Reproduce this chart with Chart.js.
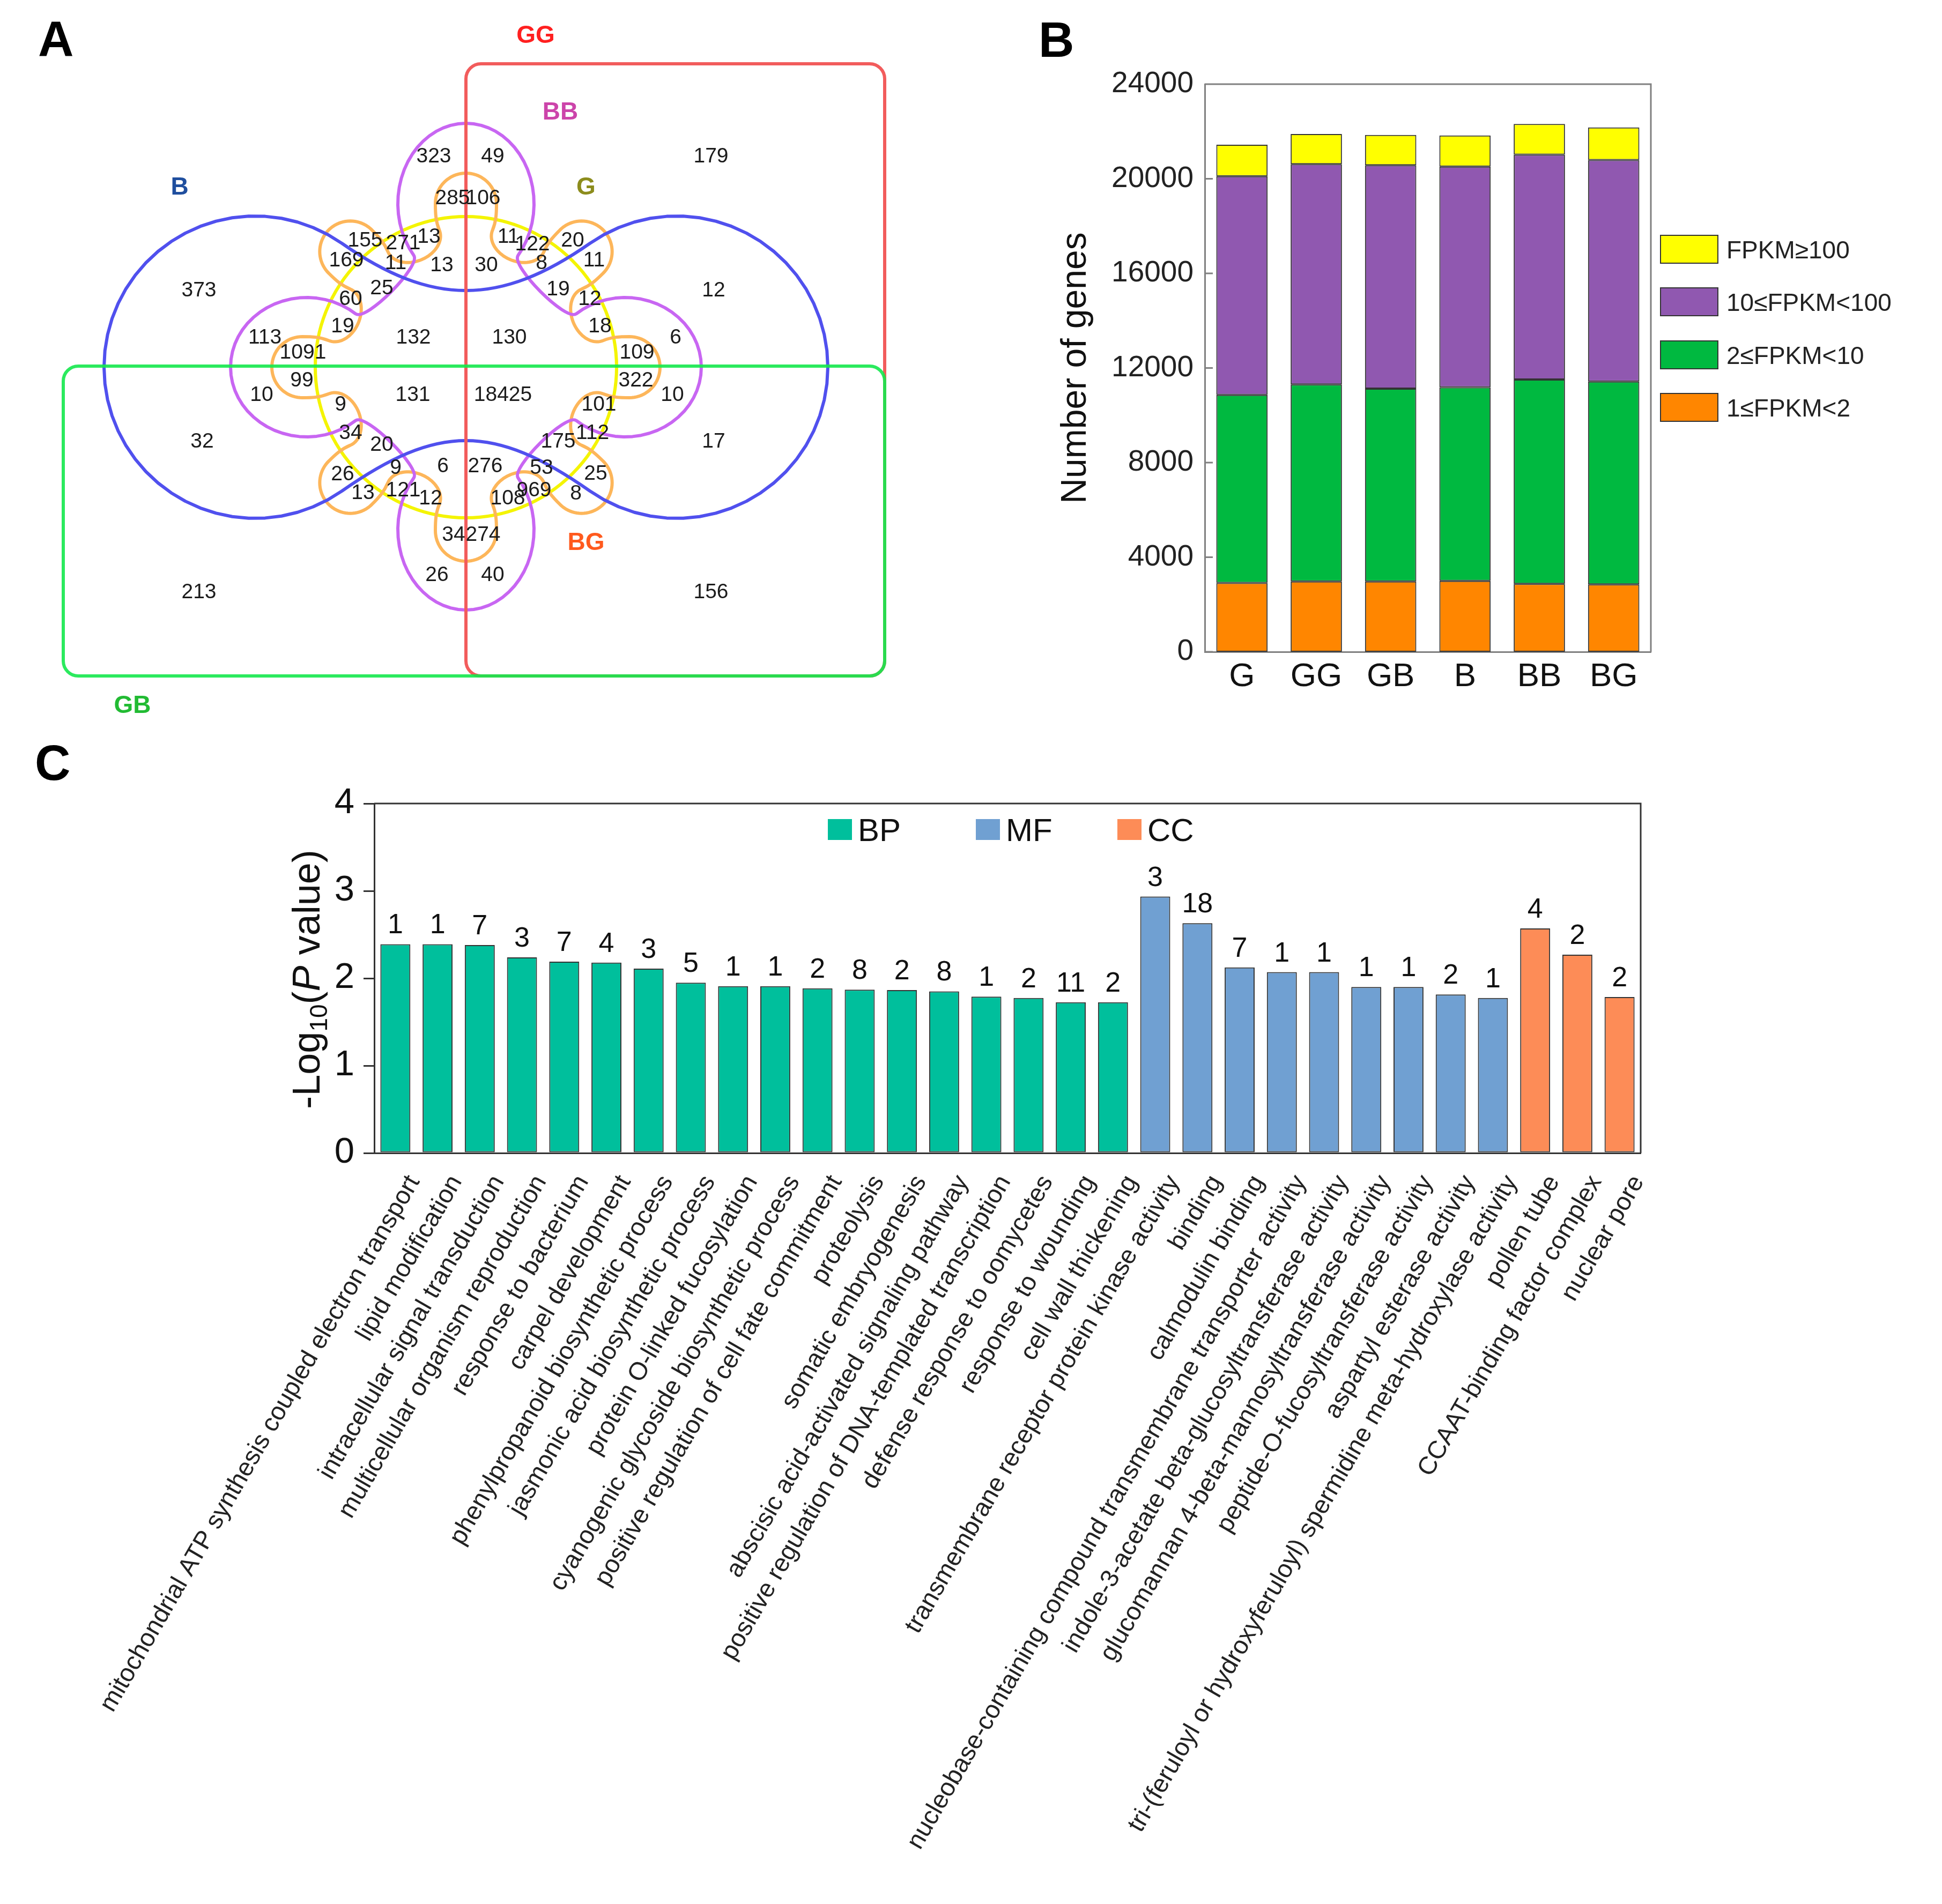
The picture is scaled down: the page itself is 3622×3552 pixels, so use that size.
<!DOCTYPE html>
<html>
<head>
<meta charset="utf-8">
<title>Venn, FPKM distribution and GO enrichment</title>
<script src="https://cdn.jsdelivr.net/npm/chart.js@4.4.1/dist/chart.umd.min.js"></script>
<style>
  html, body { margin: 0; padding: 0; background: #fff; }
  body { width: 3622px; height: 3552px; position: relative; overflow: hidden; }
  .box { position: absolute; }
  .tag { position: absolute; font: bold 92px "Liberation Sans", Arial, sans-serif; line-height: 1; color: #000; }
</style>
</head>
<body>
<div class="box" style="left:0;top:0;width:1800px;height:1400px"><canvas id="venn"></canvas></div>
<div class="box" style="left:1900px;top:0;width:1722px;height:1400px"><canvas id="fpkm"></canvas></div>
<div class="box" style="left:0;top:1400px;width:3622px;height:2152px"><canvas id="go"></canvas></div>
<div class="tag" style="left:71px;top:26px">A</div>
<div class="tag" style="left:1937px;top:28px">B</div>
<div class="tag" style="left:65px;top:1377px">C</div>
<script>
// ---------------- panel A: six-set Venn ----------------
const vennCounts = [323, 49, 179, 285, 106, 155, 271, 13, 11, 122, 20, 169, 11, 13, 30, 8, 11,
  373, 25, 19, 12, 12, 60, 19, 18, 113, 132, 130, 6, 1091, 109, 99, 322, 10, 131, 18425, 10,
  9, 101, 34, 112, 32, 175, 17, 20, 9, 6, 276, 53, 26, 25, 13, 121, 12, 108, 969, 8, 34, 274,
  26, 40, 213, 156];
// where each count is printed (panel pixels)
const vennSpots = [[809,292],[919,292],[1326,292],[844,370],[901,370],[681,449],[752,454],[800,442],
  [948,442],[993,456],[1068,449],[646,486],[738,491],[824,495],[907,495],[1010,491],[1108,486],
  [371,542],[712,538],[1041,540],[1100,558],[1331,542],[654,558],[639,609],[1119,609],[494,630],
  [771,630],[950,630],[1260,630],[565,658],[1188,658],[563,710],[1186,710],[488,737],[770,737],
  [938,737],[1254,737],[635,755],[1117,755],[654,808],[1105,808],[377,824],[1041,824],[1331,824],
  [712,830],[738,873],[826,870],[905,870],[1010,873],[639,885],[1111,884],[677,920],[752,915],
  [803,930],[947,930],[996,915],[1074,921],[846,998],[901,998],[815,1073],[919,1073],[371,1105],
  [1326,1105]];
const vennSetNames = ['GG', 'BB', 'B', 'G', 'BG', 'GB'];
const vennSetSpots = [[999,67],[1045,210],[335,350],[1093,350],[1093,1013],[247,1317]];
const vennSetColors = ['#ff2020', '#cc44aa', '#1f4e9e', '#8c8c1c', '#ff5a1e', '#22bb33'];

// outline geometry (panel pixels)
const vennCenter = [869, 685];
const yellowRadius = 281;
const blueLobes = [
  { phi: 0, d: 393, a: 282, b: 282, span: 125 },
  { phi: 180, d: 393, a: 282, b: 282, span: 125 }
];
const blueWaists = [137, 143];
const purpleLobes = [
  { phi: -90, d: 305, a: 150, b: 127, span: 130 },
  { phi: 0, d: 297, a: 142, b: 130, span: 130 },
  { phi: 90, d: 303, a: 150, b: 127, span: 130 },
  { phi: 180, d: 297, a: 142, b: 130, span: 130 }
];
const purpleWaists = [198, 198, 198, 198];
const orangeLobes = [];
for (let i = 0; i < 16; i++) {
  const inward = i % 2 === 1;
  orangeLobes.push({ phi: -90 + 22.5 * i, d: inward ? 255 : 305, a: inward ? 38 : 57, b: inward ? 52 : 57, span: 90, inward });
}
const ggRect = [869, 119, 1650, 1261];
const gbRect = [118, 683, 1650, 1261];

// ---------------- panel B: FPKM classes ----------------
const sampleGroups = ['G', 'GG', 'GB', 'B', 'BB', 'BG'];
const fpkm1to2 = [2910, 2975, 2975, 2995, 2870, 2850];
const fpkm2to10 = [7950, 8330, 8150, 8190, 8640, 8580];
const fpkm10to100 = [9245, 9310, 9450, 9330, 9510, 9365];
const fpkmOver100 = [1335, 1275, 1275, 1315, 1295, 1375];

// ---------------- panel C: GO enrichment ----------------
const goTerms = [
  'mitochondrial ATP synthesis coupled electron transport', 'lipid modification',
  'intracellular signal transduction', 'multicellular organism reproduction',
  'response to bacterium', 'carpel development', 'phenylpropanoid biosynthetic process',
  'jasmonic acid biosynthetic process', 'protein O-linked fucosylation',
  'cyanogenic glycoside biosynthetic process', 'positive regulation of cell fate commitment',
  'proteolysis', 'somatic embryogenesis', 'abscisic acid-activated signaling pathway',
  'positive regulation of DNA-templated transcription', 'defense response to oomycetes',
  'response to wounding', 'cell wall thickening',
  'transmembrane receptor protein kinase activity', 'binding', 'calmodulin binding',
  'nucleobase-containing compound transmembrane transporter activity',
  'indole-3-acetate beta-glucosyltransferase activity',
  'glucomannan 4-beta-mannosyltransferase activity', 'peptide-O-fucosyltransferase activity',
  'aspartyl esterase activity',
  'tri-(feruloyl or hydroxyferuloyl) spermidine meta-hydroxylase activity',
  'pollen tube', 'CCAAT-binding factor complex', 'nuclear pore'
];
const goLogP = [2.39, 2.39, 2.38, 2.24, 2.19, 2.18, 2.11, 1.95, 1.91, 1.91, 1.885, 1.87, 1.865, 1.85,
  1.79, 1.775, 1.725, 1.725, 2.935, 2.63, 2.125, 2.07, 2.07, 1.9, 1.9, 1.815, 1.775, 2.57, 2.27, 1.785];
const goGeneCounts = [1, 1, 7, 3, 7, 4, 3, 5, 1, 1, 2, 8, 2, 8, 1, 2, 11, 2, 3, 18, 7, 1, 1, 1, 1, 2, 1, 4, 2, 2];
const goCategory = ['BP','BP','BP','BP','BP','BP','BP','BP','BP','BP','BP','BP','BP','BP','BP','BP','BP','BP',
  'MF','MF','MF','MF','MF','MF','MF','MF','MF','CC','CC','CC'];
const goClasses = ['BP', 'MF', 'CC'];

const FONT = '"Liberation Sans", Arial, Helvetica, sans-serif';
Chart.defaults.font.family = FONT;
Chart.defaults.color = '#111';

// ---------- Venn drawing helpers ----------
function lobeAt(c, L, t) {
  const rad = Math.PI / 180;
  const rot = (L.phi + (L.inward ? 180 : 0)) * rad;
  const ox = c[0] + L.d * Math.cos(L.phi * rad);
  const oy = c[1] + L.d * Math.sin(L.phi * rad);
  const cr = Math.cos(rot), sr = Math.sin(rot);
  const lx = L.a * Math.cos(t), ly = L.b * Math.sin(t);
  const dx = -L.a * Math.sin(t), dy = L.b * Math.cos(t);
  const s = L.inward ? -1 : 1;
  const tx = (dx * cr - dy * sr) * s, ty = (dx * sr + dy * cr) * s;
  const n = Math.hypot(tx, ty);
  return { x: ox + lx * cr - ly * sr, y: oy + lx * sr + ly * cr, tx: tx / n, ty: ty / n };
}

function tracePetals(ctx, px, c, lobes, waists, kDefault) {
  const rad = Math.PI / 180;
  const n = lobes.length;
  const range = L => { const s = L.span * rad; return L.inward ? [s, -s] : [-s, s]; };
  ctx.beginPath();
  lobes.forEach((L, i) => {
    const [t0, t1] = range(L);
    for (let j = 0; j <= 40; j++) {
      const p = lobeAt(c, L, t0 + (t1 - t0) * j / 40);
      const q = px(p.x, p.y);
      if (i === 0 && j === 0) ctx.moveTo(q[0], q[1]); else ctx.lineTo(q[0], q[1]);
    }
    const N = lobes[(i + 1) % n];
    const P0 = lobeAt(c, L, t1), P3 = lobeAt(c, N, range(N)[0]);
    let k = kDefault;
    if (waists) {
      let a2 = N.phi; if (a2 <= L.phi) a2 += 360;
      const mid = (L.phi + a2) / 2 * rad, ux = Math.cos(mid), uy = Math.sin(mid);
      const ax = (P0.x + P3.x) / 2 - c[0], ay = (P0.y + P3.y) / 2 - c[1];
      const bx = 0.375 * (P0.tx - P3.tx), by = 0.375 * (P0.ty - P3.ty);
      const den = bx * ux + by * uy;
      if (Math.abs(den) > 1e-6) k = (waists[i] - (ax * ux + ay * uy)) / den;
    }
    const c1 = px(P0.x + k * P0.tx, P0.y + k * P0.ty);
    const c2 = px(P3.x - k * P3.tx, P3.y - k * P3.ty);
    const e = px(P3.x, P3.y);
    ctx.bezierCurveTo(c1[0], c1[1], c2[0], c2[1], e[0], e[1]);
  });
  ctx.closePath();
}

function roundRectPath(ctx, x0, y0, x1, y1, r) {
  ctx.beginPath();
  ctx.moveTo(x0 + r, y0);
  ctx.lineTo(x1 - r, y0); ctx.arcTo(x1, y0, x1, y0 + r, r);
  ctx.lineTo(x1, y1 - r); ctx.arcTo(x1, y1, x1 - r, y1, r);
  ctx.lineTo(x0 + r, y1); ctx.arcTo(x0, y1, x0, y1 - r, r);
  ctx.lineTo(x0, y0 + r); ctx.arcTo(x0, y0, x0 + r, y0, r);
  ctx.closePath();
}

const vennOutlines = {
  id: 'vennOutlines',
  beforeDatasetsDraw(chart) {
    const { ctx, scales: { x, y } } = chart;
    const px = (a, b) => [x.getPixelForValue(a), y.getPixelForValue(b)];
    ctx.save();
    ctx.lineWidth = 6;
    ctx.lineJoin = 'round';

    const c = px(vennCenter[0], vennCenter[1]);
    const r = x.getPixelForValue(vennCenter[0] + yellowRadius) - c[0];
    ctx.strokeStyle = '#f4f400';
    ctx.beginPath(); ctx.arc(c[0], c[1], r, 0, Math.PI * 2); ctx.stroke();

    ctx.strokeStyle = '#fdb65a';
    tracePetals(ctx, px, vennCenter, orangeLobes, null, 18); ctx.stroke();

    ctx.strokeStyle = '#c866f2';
    tracePetals(ctx, px, vennCenter, purpleLobes, purpleWaists, 30); ctx.stroke();

    ctx.strokeStyle = '#5050ee';
    tracePetals(ctx, px, vennCenter, blueLobes, blueWaists, 200); ctx.stroke();

    let p0 = px(ggRect[0], ggRect[1]), p1 = px(ggRect[2], ggRect[3]);
    ctx.strokeStyle = '#f25c5c';
    roundRectPath(ctx, p0[0], p0[1], p1[0], p1[1], 28); ctx.stroke();

    p0 = px(gbRect[0], gbRect[1]); p1 = px(gbRect[2], gbRect[3]);
    ctx.strokeStyle = 'rgba(20,232,76,0.9)';
    roundRectPath(ctx, p0[0], p0[1], p1[0], p1[1], 28); ctx.stroke();
    ctx.restore();
  },
  afterDatasetsDraw(chart) {
    const { ctx, scales: { x, y } } = chart;
    ctx.save();
    ctx.textAlign = 'center';
    ctx.textBaseline = 'middle';
    ctx.fillStyle = '#1c1c1c';
    ctx.font = '39px ' + FONT;
    chart.getDatasetMeta(0).data.forEach((pt, i) => {
      ctx.fillText(String(vennCounts[i]), pt.x, pt.y);
    });
    ctx.font = 'bold 46px ' + FONT;
    vennSetNames.forEach((name, i) => {
      ctx.fillStyle = vennSetColors[i];
      ctx.fillText(name, x.getPixelForValue(vennSetSpots[i][0]), y.getPixelForValue(vennSetSpots[i][1]));
    });
    ctx.restore();
  }
};

new Chart(document.getElementById('venn'), {
  type: 'scatter',
  data: {
    datasets: [{
      label: 'region size',
      data: vennCounts.map((n, i) => ({ x: vennSpots[i][0], y: vennSpots[i][1] })),
      pointRadius: 0
    }]
  },
  options: {
    responsive: true, maintainAspectRatio: false, animation: false,
    layout: { padding: 0 },
    plugins: { legend: { display: false }, tooltip: { enabled: false } },
    scales: {
      x: { type: 'linear', min: 0, max: 1800, display: false },
      y: { type: 'linear', min: 0, max: 1400, reverse: true, display: false }
    }
  },
  plugins: [vennOutlines]
});

// ---------- panel B ----------
const fpkmSeries = [
  { label: '1≤FPKM<2', data: fpkm1to2, color: '#ff8600' },
  { label: '2≤FPKM<10', data: fpkm2to10, color: '#00b940' },
  { label: '10≤FPKM<100', data: fpkm10to100, color: '#9058b0' },
  { label: 'FPKM≥100', data: fpkmOver100, color: '#ffff00' }
];

const fpkmFrame = {
  id: 'fpkmFrame',
  afterDraw(chart) {
    const { ctx, chartArea: a, scales: { y } } = chart;
    ctx.save();
    ctx.strokeStyle = '#808080';
    ctx.lineWidth = 3;
    ctx.beginPath();
    ctx.moveTo(a.left, a.top); ctx.lineTo(a.right, a.top); ctx.lineTo(a.right, a.bottom);
    y.ticks.forEach(t => {
      const py = y.getPixelForValue(t.value);
      ctx.moveTo(a.left, py); ctx.lineTo(a.left + 15, py);
    });
    ctx.stroke();
    // legend, top entry first
    const boxX = 1197, boxW = 107, boxH = 52, tops = [439, 537, 636, 734];
    ctx.font = '46px ' + FONT;
    ctx.textBaseline = 'alphabetic';
    ctx.textAlign = 'left';
    const ds = chart.data.datasets.slice().reverse();
    ds.forEach((d, i) => {
      ctx.fillStyle = d.backgroundColor;
      ctx.fillRect(boxX, tops[i], boxW, boxH);
      ctx.lineWidth = 2; ctx.strokeStyle = '#333';
      ctx.strokeRect(boxX, tops[i], boxW, boxH);
      ctx.fillStyle = '#222';
      ctx.fillText(d.label, boxX + boxW + 16, tops[i] + boxH / 2 + 16.5);
    });
    ctx.restore();
  }
};

new Chart(document.getElementById('fpkm'), {
  type: 'bar',
  data: {
    labels: sampleGroups,
    datasets: fpkmSeries.map(s => ({
      label: s.label, data: s.data, backgroundColor: s.color,
      borderColor: '#333', borderWidth: 2, borderSkipped: false,
      barPercentage: 0.69, categoryPercentage: 1
    }))
  },
  options: {
    responsive: true, maintainAspectRatio: false, animation: false,
    layout: { padding: { left: 63, top: 157, right: 543, bottom: 84 } },
    plugins: { legend: { display: false }, tooltip: { enabled: false } },
    scales: {
      x: {
        stacked: true,
        grid: { display: false, drawTicks: false },
        border: { display: true, color: '#808080', width: 3 },
        ticks: { font: { size: 62 }, color: '#111', padding: 10, maxRotation: 0 },
        afterFit(s) { s.height = 100; }
      },
      y: {
        stacked: true, min: 0, max: 24000,
        grid: { display: false, drawTicks: false },
        border: { display: true, color: '#808080', width: 3 },
        ticks: { stepSize: 4000, font: { size: 55 }, color: '#222', padding: 21, callback: v => String(v) },
        title: { display: true, text: 'Number of genes', font: { size: 66 }, color: '#111', padding: { top: 4, bottom: 4 } },
        afterFit(s) { s.width = 284; }
      }
    }
  },
  plugins: [fpkmFrame]
});

// ---------- panel C ----------
const goColors = { BP: '#00bf9c', MF: '#70a0d2', CC: '#fd8c57' };

const goDecor = {
  id: 'goDecor',
  afterDraw(chart) {
    const { ctx, chartArea: a, scales: { y } } = chart;
    ctx.save();
    // frame top/right
    ctx.strokeStyle = '#333'; ctx.lineWidth = 3;
    ctx.beginPath();
    ctx.moveTo(a.left, a.top); ctx.lineTo(a.right, a.top); ctx.lineTo(a.right, a.bottom);
    ctx.stroke();

    // gene counts above bars
    ctx.font = '52px ' + FONT;
    ctx.fillStyle = '#111';
    ctx.textAlign = 'center';
    ctx.textBaseline = 'alphabetic';
    chart.data.datasets.forEach((ds, di) => {
      chart.getDatasetMeta(di).data.forEach((bar, i) => {
        if (ds.data[i] == null) return;
        ctx.fillText(String(goGeneCounts[i]), bar.x, bar.y - 20);
      });
    });

    // legend inside plot
    const legX = [1544, 1820, 2084];
    ctx.font = '60px ' + FONT;
    ctx.textAlign = 'left';
    chart.data.datasets.forEach((ds, i) => {
      ctx.fillStyle = ds.backgroundColor;
      ctx.fillRect(legX[i], 128, 45, 39);
      ctx.fillStyle = '#111';
      ctx.fillText(ds.label, legX[i] + 56, 169);
    });

    // y title: -Log10(P value)
    const parts = [
      { t: '-Log', f: '72px ' + FONT, dy: 0 },
      { t: '10', f: '46px ' + FONT, dy: 14 },
      { t: '(', f: '72px ' + FONT, dy: 0 },
      { t: 'P', f: 'italic 72px ' + FONT, dy: 0 },
      { t: ' value)', f: '72px ' + FONT, dy: 0 }
    ];
    let total = 0;
    parts.forEach(p => { ctx.font = p.f; p.w = ctx.measureText(p.t).width; total += p.w; });
    ctx.translate(596, (y.top + y.bottom) / 2 + 2);
    ctx.rotate(-Math.PI / 2);
    let cx = -total / 2;
    parts.forEach(p => { ctx.font = p.f; ctx.fillText(p.t, cx, p.dy); cx += p.w; });
    ctx.restore();
  }
};

new Chart(document.getElementById('go'), {
  type: 'bar',
  data: {
    labels: goTerms,
    datasets: goClasses.map(cat => ({
      label: cat,
      data: goLogP.map((v, i) => (goCategory[i] === cat ? v : null)),
      backgroundColor: goColors[cat],
      borderColor: '#333', borderWidth: 2, borderSkipped: false,
      barPercentage: 0.71, categoryPercentage: 1, grouped: false
    }))
  },
  options: {
    responsive: true, maintainAspectRatio: false, animation: false,
    layout: { padding: { left: 0, top: 99, right: 562, bottom: 0 } },
    plugins: { legend: { display: false }, tooltip: { enabled: false } },
    scales: {
      x: {
        grid: { display: false, drawTicks: false },
        border: { display: true, color: '#333', width: 3 },
        ticks: { autoSkip: false, minRotation: 60, maxRotation: 60, padding: 32, labelOffset: 35, font: { size: 47 }, color: '#222' },
        afterFit(s) { s.height = 1401; }
      },
      y: {
        min: 0, max: 4,
        grid: { drawOnChartArea: false, drawTicks: true, tickLength: 20, color: '#333', lineWidth: 3 },
        border: { display: true, color: '#333', width: 3 },
        ticks: { stepSize: 1, font: { size: 67 }, color: '#111', padding: 17 },
        afterFit(s) { s.width = 698; }
      }
    }
  },
  plugins: [goDecor]
});
</script>
</body>
</html>
